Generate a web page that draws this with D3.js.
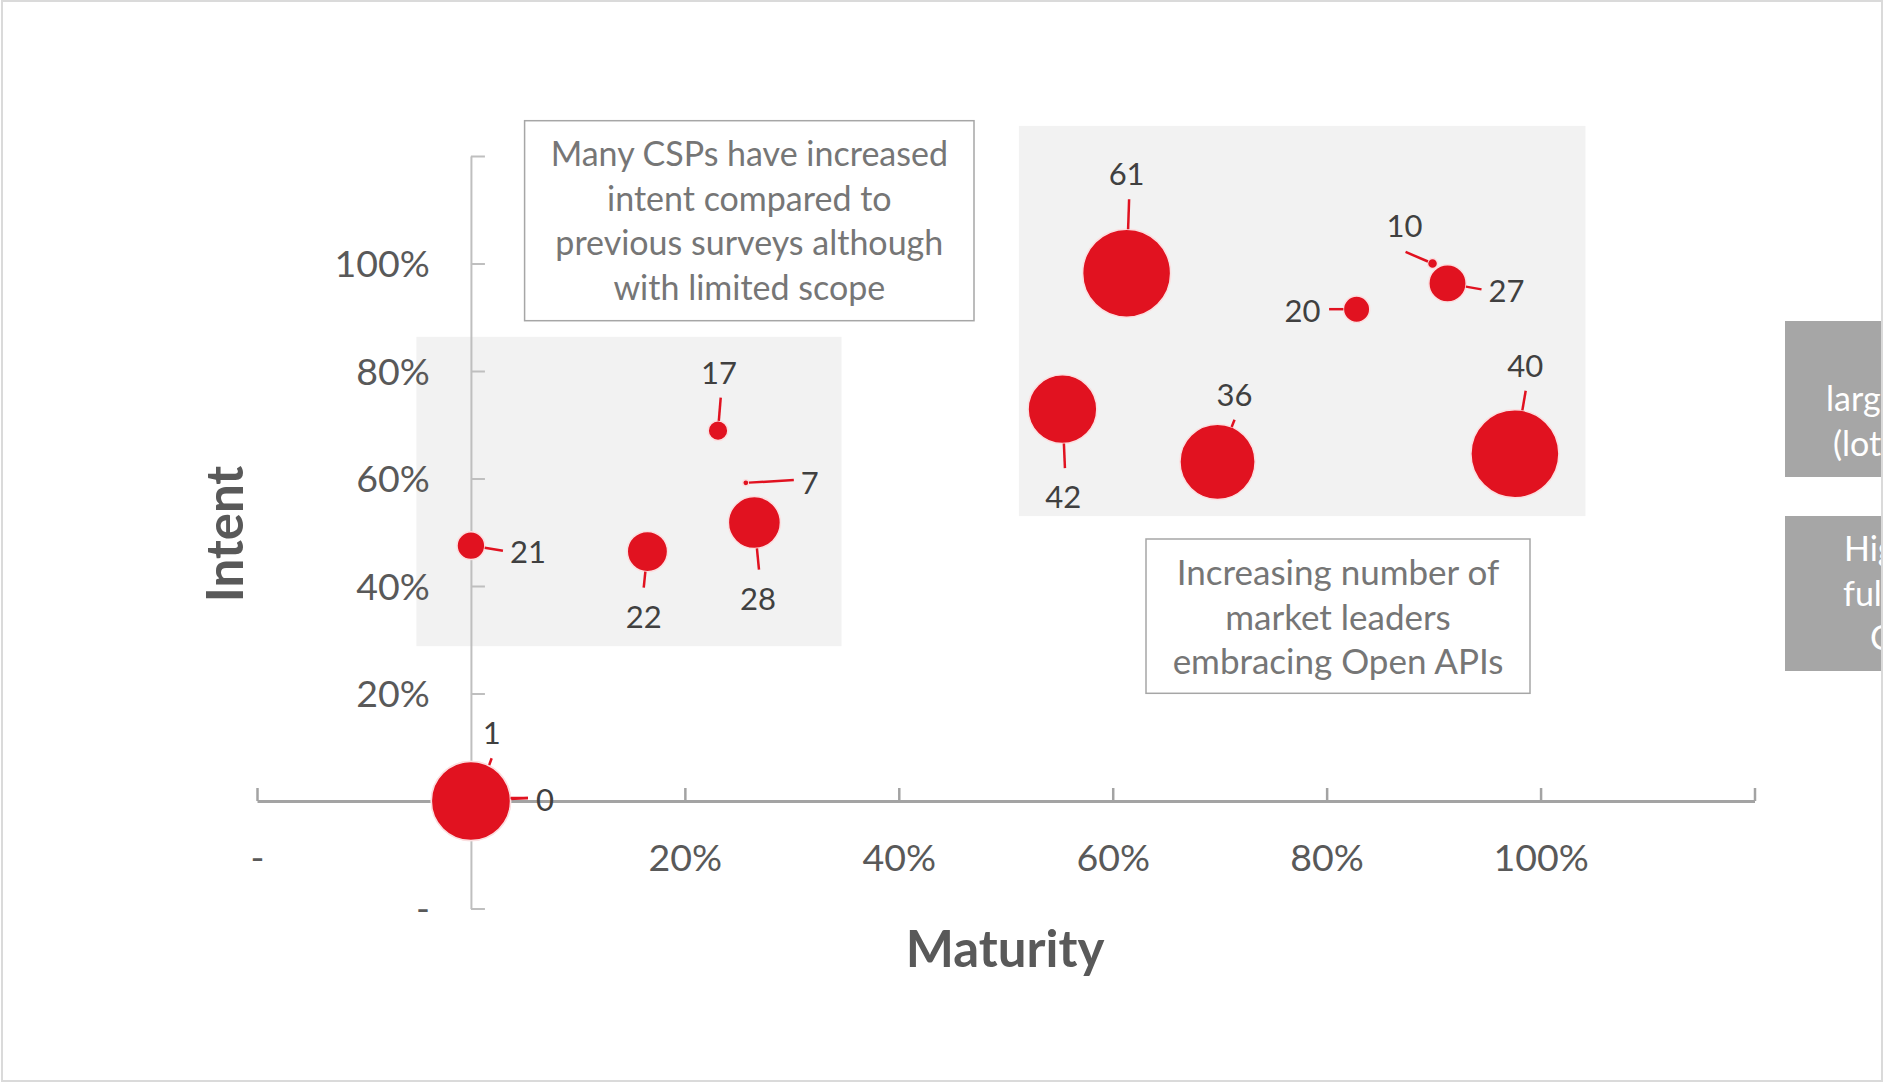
<!DOCTYPE html>
<html>
<head>
<meta charset="utf-8">
<script src="https://cdn.jsdelivr.net/npm/d3@7"></script>
<style>
  body { margin: 0; background: #fff; }
  svg { display: block; font-family: Lato, 'Open Sans', sans-serif; }
</style>
</head>
<body>
<svg></svg>
<script>
/*
*  DATA
*/

// one entry per bubble, label is the number printed next to it
let labels     = ['1', '0', '21', '22', '17', '7', '28', '42', '61', '36', '20', '10', '27', '40']
let maturity   = [0.016, 0, 0, 0.165, 0.231, 0.257, 0.265, 0.553, 0.613, 0.698, 0.828, 0.899, 0.913, 0.976]
let intent     = [0.061, 0, 0.475, 0.464, 0.689, 0.592, 0.518, 0.729, 0.982, 0.631, 0.915, 1.0, 0.963, 0.646]
let bubbleSize = [0.2, 81, 10, 21, 5, 0.5, 35, 61, 100, 73, 9, 1.3, 18, 100]

let xTicks = [-0.2, 0, 0.2, 0.4, 0.6, 0.8, 1.0, 1.2]
let yTicks = [-0.2, 0, 0.2, 0.4, 0.6, 0.8, 1.0, 1.2]

// shaded groups, in axis units
let regions = [
  { x0: -0.051, x1: 0.3465, y0: 0.288, y1: 0.8636 },
  { x0: 0.5123, x1: 1.042, y0: 0.530, y1: 1.256 }
]

let note1 = ['Many CSPs have increased', 'intent compared to', 'previous surveys although', 'with limited scope']
let note2 = ['Increasing number of', 'market leaders', 'embracing Open APIs']
let sideNote1 = ['larger', '(lots']
let sideNote2 = ['High', 'full', 'CSPs']


/*
*  LAYOUT
*/

let width = 1883,
    height = 1083

// label offset from bubble centre [dx, dy] and end of the leader line [lx, ly], px
let labelOffsets = [
  [3.6, -35, 3.6, -10], [74, -1, 57, -3], [57, 6, 32, 5], [-3.7, 66, -3.7, 36],
  [1, -58, 2.7, -33], [64, 0, 48, -2.7], [3.6, 77, 4.6, 47], [0.7, 88, 2.5, 59],
  [0, -99, 2.5, -74], [17, -67, 17, -42], [-54, 2.4, -27.5, 0], [-28, -37, -27, -11.6],
  [59, 7.4, 34, 6], [10.4, -88, 10.8, -63]
]

let red = '#e11220'

let svg = d3.select('svg').attr('width', width).attr('height', height)

let x = d3.scaleLinear().domain([-0.2, 1.2]).range([257, 1754.5])
let y = d3.scaleLinear().domain([-0.2, 1.2]).range([908.5, 156])
let r = d3.scaleSqrt().domain([0, 100]).range([0, 44])

let pct = d3.format('.0%')

drawRegions()
drawNotes()
drawAxes()
drawBubbles()
drawSideNotes()

svg.append('rect')
  .attr('x', 2).attr('y', 1)
  .attr('width', width - 3).attr('height', height - 3)
  .attr('fill', 'none').attr('stroke', '#dadada').attr('stroke-width', 2)


/*
*  HELPERS
*/

function drawRegions(){
  svg.append('g').selectAll('rect')
    .data(regions)
    .enter()
    .append('rect')
    .attr('x', d => x(d.x0))
    .attr('y', d => y(d.y1))
    .attr('width', d => x(d.x1) - x(d.x0))
    .attr('height', d => y(d.y0) - y(d.y1))
    .attr('fill', '#f2f2f2')
}

function noteBox(lines, bx, by, bw, bh, firstBaseline, size){
  let g = svg.append('g')
  g.append('rect')
    .attr('x', bx).attr('y', by).attr('width', bw).attr('height', bh)
    .attr('fill', '#fff').attr('stroke', '#a6a6a6').attr('stroke-width', 1.5)
  g.selectAll('text')
    .data(lines)
    .enter()
    .append('text')
    .attr('x', bx + bw / 2)
    .attr('y', (d, i) => firstBaseline + i * 44.7)
    .attr('text-anchor', 'middle')
    .attr('font-size', size)
    .attr('fill', '#767676')
    .text(d => d)
}

function drawNotes(){
  noteBox(note1, 524.6, 120.7, 449.4, 200, 166, 34)
  noteBox(note2, 1146, 539, 384, 154.3, 585, 35)
}

function drawAxes(){
  // y axis, ticks pointing right, labels on the left
  let yAxis = d3.axisLeft(y)
    .tickValues(yTicks)
    .tickSizeInner(-14)
    .tickSizeOuter(0)
    .tickPadding(41)
    .tickFormat(d => d < 0 ? '-' : (d > 0 && d < 1.1 ? pct(d) : ''))

  let gy = svg.append('g')
    .attr('transform', `translate(${x(0)},0)`)
    .call(yAxis)
  gy.select('.domain').attr('stroke', '#bfbfbf').attr('stroke-width', 2)
  gy.selectAll('.tick line').attr('stroke', '#bfbfbf').attr('stroke-width', 2)
  gy.selectAll('.tick text')
    .attr('font-size', 37.5).attr('fill', '#595959')
    .attr('font-family', 'Lato, sans-serif')
    .attr('dy', '0.35em')

  // x axis, ticks pointing up, labels below
  let xAxis = d3.axisBottom(x)
    .tickValues(xTicks)
    .tickSizeInner(-13)
    .tickSizeOuter(0)
    .tickFormat(d => d < 0 ? '-' : (d > 0 && d < 1.1 ? pct(d) : ''))

  let gx = svg.append('g')
    .attr('transform', `translate(0,${y(0)})`)
    .call(xAxis)
  gx.select('.domain').attr('stroke', '#a3a3a3').attr('stroke-width', 3)
  gx.selectAll('.tick line').attr('stroke', '#a3a3a3').attr('stroke-width', 2.5)
  gx.selectAll('.tick text')
    .attr('font-size', 37.5).attr('fill', '#595959')
    .attr('font-family', 'Lato, sans-serif')
    .attr('y', 57).attr('dy', '0.35em')

  svg.append('text')
    .attr('transform', `translate(243,534) rotate(-90)`)
    .attr('text-anchor', 'middle')
    .attr('font-size', 51).attr('font-weight', 'bold').attr('fill', '#595959')
    .text('Intent')

  svg.append('text')
    .attr('x', 1005).attr('y', 967)
    .attr('text-anchor', 'middle')
    .attr('font-size', 51).attr('font-weight', 'bold').attr('fill', '#595959')
    .text('Maturity')
}

function drawBubbles(){
  let points = labels.map((label, i) => ({
    label: label,
    cx: x(maturity[i]),
    cy: y(intent[i]),
    rad: r(bubbleSize[i]),
    off: labelOffsets[i]
  }))

  svg.append('g').selectAll('circle')
    .data(points)
    .enter()
    .append('circle')
    .attr('cx', d => d.cx)
    .attr('cy', d => d.cy)
    .attr('r', d => d.rad)
    .attr('fill', red)
    .attr('stroke', '#fbdfe0')
    .attr('stroke-width', 1.5)

  // leader lines run from the bubble edge towards the label
  svg.append('g').selectAll('line')
    .data(points)
    .enter()
    .append('line')
    .attr('x1', d => d.cx + d.rad * d.off[2] / Math.hypot(d.off[2], d.off[3]))
    .attr('y1', d => d.cy + d.rad * d.off[3] / Math.hypot(d.off[2], d.off[3]))
    .attr('x2', d => d.cx + d.off[2])
    .attr('y2', d => d.cy + d.off[3])
    .attr('stroke', red)
    .attr('stroke-width', 2.5)

  // bubble "1" sits under bubble "0": redraw "0" over its leader start
  let big = points[1]
  svg.append('circle')
    .attr('cx', big.cx).attr('cy', big.cy).attr('r', big.rad)
    .attr('fill', red).attr('stroke', '#fbdfe0').attr('stroke-width', 1.5)
  svg.append('line')
    .attr('x1', big.cx + big.rad).attr('y1', big.cy + big.off[3])
    .attr('x2', big.cx + big.off[2]).attr('y2', big.cy + big.off[3])
    .attr('stroke', red).attr('stroke-width', 2.5)

  svg.append('g').selectAll('text')
    .data(points)
    .enter()
    .append('text')
    .attr('x', d => d.cx + d.off[0])
    .attr('y', d => d.cy + d.off[1])
    .attr('dy', '0.35em')
    .attr('text-anchor', 'middle')
    .attr('font-size', 31)
    .attr('fill', '#404040')
    .text(d => d.label)
}

function drawSideNotes(){
  let boxes = [
    { lines: sideNote1, top: 321, bottom: 477, starts: [1826, 1833], base: 411 },
    { lines: sideNote2, top: 516, bottom: 671, starts: [1844, 1843, 1870], base: 561 }
  ]
  boxes.forEach(b => {
    svg.append('rect')
      .attr('x', 1785).attr('y', b.top)
      .attr('width', 200).attr('height', b.bottom - b.top)
      .attr('fill', '#a6a6a6')
    svg.append('g').selectAll('text')
      .data(b.lines)
      .enter()
      .append('text')
      .attr('x', (d, i) => b.starts[i])
      .attr('y', (d, i) => b.base + i * 44.7)
      .attr('font-size', 34)
      .attr('fill', '#fff')
      .text(d => d)
  })
}
</script>
</body>
</html>
